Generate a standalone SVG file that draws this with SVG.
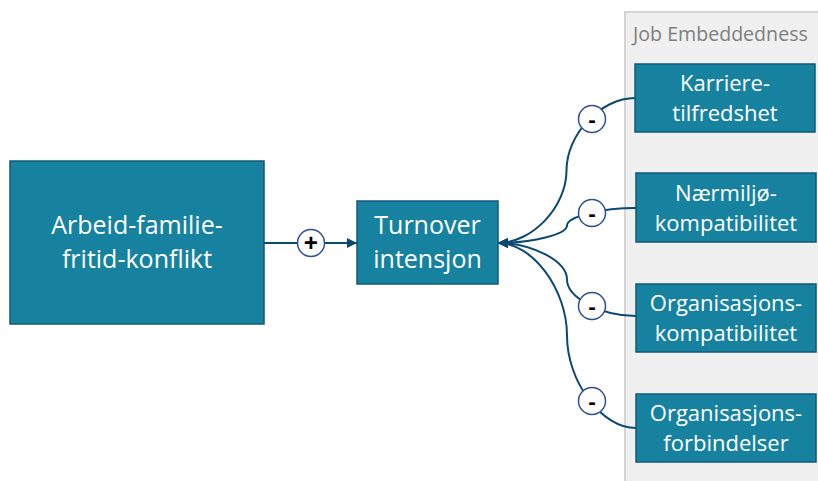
<svg xmlns="http://www.w3.org/2000/svg" width="818" height="481" viewBox="0 0 818 481">
  <style>
    .box { fill: #1782a0; stroke: #0f5a78; stroke-width: 1.5; }
    .lbl { fill: #ffffff; font-family: "Open Sans", "Noto Sans", sans-serif; text-anchor: middle; }
    .big { font-size: 25px; }
    .small { font-size: 22px; }
    .conn { fill: none; stroke: #0b4a6e; stroke-width: 2; }
    .sign { fill: #ffffff; stroke: #2f4f95; stroke-width: 1.5; }
    .signtxt { fill: #000000; font-family: "Open Sans", "Noto Sans", sans-serif; font-weight: bold; text-anchor: middle; }
  </style>
  <defs>
    <marker id="arrow" viewBox="0 0 10 10" refX="10" refY="5" markerWidth="5" markerHeight="5" orient="auto" markerUnits="strokeWidth">
      <path d="M0,0 L10,5 L0,10 z" fill="#0b4a6e"/>
    </marker>
  </defs>

  <!-- Job Embeddedness panel -->
  <g id="panel">
    <rect x="625" y="12" width="200" height="475" fill="#f0f0f0" stroke="#d4d4d4" stroke-width="2"/>
    <text x="633" y="41" font-family="'Open Sans', 'Noto Sans', sans-serif" font-size="19.6" fill="#7f7f7f">Job Embeddedness</text>
  </g>

  <!-- connectors -->
  <g id="connectors">
    <path class="conn" d="M264,243 L357,243" marker-end="url(#arrow)"/>
    <path class="conn" d="M635,98 C600.75,98 566.5,134.25 566.5,170.5 C566.5,206.75 532.25,243 498,243" marker-end="url(#arrow)"/>
    <path class="conn" d="M636,208 C601.5,208 567,216.75 567,225.5 C567,234.25 532.5,243 498,243" marker-end="url(#arrow)"/>
    <path class="conn" d="M636,316 C601.5,316 567,297.75 567,279.5 C567,261.25 532.5,243 498,243" marker-end="url(#arrow)"/>
    <path class="conn" d="M636,428 C601.5,428 567,381.75 567,335.5 C567,289.25 532.5,243 498,243" marker-end="url(#arrow)"/>
  </g>

  <!-- sign markers on the connectors -->
  <g id="signs">
    <circle class="sign" cx="311" cy="243" r="13.5"/>
    <text class="signtxt" x="311" y="251.5" font-size="25">+</text>
    <circle class="sign" cx="592" cy="119" r="13.5"/>
    <text class="signtxt" x="592" y="126.5" font-size="22">-</text>
    <circle class="sign" cx="592" cy="213" r="13.5"/>
    <text class="signtxt" x="592" y="220.5" font-size="22">-</text>
    <circle class="sign" cx="592" cy="306" r="13.5"/>
    <text class="signtxt" x="592" y="313.5" font-size="22">-</text>
    <circle class="sign" cx="592" cy="401" r="13.5"/>
    <text class="signtxt" x="592" y="408.5" font-size="22">-</text>
  </g>

  <g id="node-conflict">
    <rect class="box" x="10" y="161" width="254" height="163"/>
    <text class="lbl big" x="137" y="234">Arbeid-familie-</text>
    <text class="lbl big" x="137" y="268">fritid-konflikt</text>
  </g>

  <g id="node-turnover">
    <rect class="box" x="357" y="201" width="141" height="83"/>
    <text class="lbl big" x="427.5" y="234">Turnover</text>
    <text class="lbl big" x="427.5" y="268">intensjon</text>
  </g>

  <g id="node-karriere">
    <rect class="box" x="635" y="64" width="180" height="68"/>
    <text class="lbl small" x="725" y="91">Karriere-</text>
    <text class="lbl small" x="725" y="121">tilfredshet</text>
  </g>

  <g id="node-naermiljo">
    <rect class="box" x="636" y="173" width="180" height="69"/>
    <text class="lbl small" x="726" y="201">Nærmiljø-</text>
    <text class="lbl small" x="726" y="231">kompatibilitet</text>
  </g>

  <g id="node-orgkompat">
    <rect class="box" x="636" y="284" width="180" height="68"/>
    <text class="lbl small" x="726" y="311">Organisasjons-</text>
    <text class="lbl small" x="726" y="341">kompatibilitet</text>
  </g>

  <g id="node-orgforb">
    <rect class="box" x="636" y="394" width="180" height="68"/>
    <text class="lbl small" x="726" y="421">Organisasjons-</text>
    <text class="lbl small" x="726" y="451">forbindelser</text>
  </g>
</svg>
